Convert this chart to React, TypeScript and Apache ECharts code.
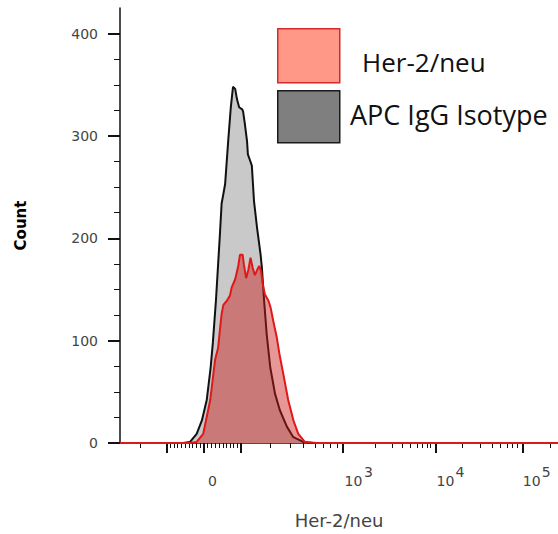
import React, { useEffect, useRef } from "react";
import * as echarts from "echarts";

// Histogram (channel units on a 0–1000 display scale, count per channel)
const isotypeChannel = [0, 144, 160, 175, 187, 198, 207, 212, 219, 228, 232, 235, 240, 247, 253, 258, 263, 267, 272, 279, 281, 285, 290, 292, 297, 301, 306, 313, 321, 324, 329, 335, 343, 354, 365, 381, 395, 418, 441, 1000];
const isotypeCount = [0, 0, 1, 9, 22, 42, 74, 98, 139, 203, 234, 241, 253, 295, 328, 348, 346, 336, 328, 326, 324, 312, 295, 282, 276, 271, 236, 210, 184, 171, 139, 106, 74, 48, 32, 16, 6, 1, 0, 0];

const herChannel = [0, 160, 175, 190, 206, 217, 224, 228, 232, 236, 244, 251, 255, 263, 270, 274, 280, 283, 288, 293, 298, 303, 308, 313, 318, 322, 326, 331, 339, 344, 350, 358, 364, 373, 384, 396, 407, 422, 449, 1000];
const herCount = [0, 0, 1, 9, 42, 81, 93, 110, 126, 135, 139, 144, 152, 160, 173, 184, 184, 174, 161, 169, 181, 171, 164, 169, 173, 168, 155, 145, 139, 132, 119, 103, 87, 67, 42, 22, 9, 1, 0, 0];

// Axis ticks and labels (display channel positions)
const xMajorTicks = [107, 192, 276, 509, 721, 920];
const xMinorTicks = [46, 115, 123, 131, 139, 148, 157, 165, 174, 183, 200, 209, 217, 226, 235, 243, 251, 259, 267, 342, 388, 418, 445, 463, 479, 495, 582, 621, 644, 662, 678, 689, 701, 708, 781, 822, 849, 868, 884, 895, 906, 982];
const xLabelPos = [211, 533, 743, 940];
const xLabelText = ["0", "10", "10", "10"];
const xSupPos = [567, 776, 973];
const xSupText = ["3", "4", "5"];

const yMajorTicks = [0, 100, 200, 300, 400];
const yMinorTicks = [25, 50, 75, 125, 150, 175, 225, 250, 275, 325, 350, 375];

const seriesNames = ["APC IgG Isotype", "Her-2/neu"];
const legendLabels = ["Her-2/neu", "APC IgG Isotype"];

const zip = (a: number[], b: number[]) => a.map((v, i) => [v, b[i]]);

export default function App() {
  const ref = useRef<HTMLDivElement>(null);
  useEffect(() => {
    document.body.style.margin = "0";
    if (!ref.current) return;
    const chart = echarts.init(ref.current, null, { renderer: "svg" });
    const font = "DejaVu Sans";
    const mapper = (pos: number[], txt: string[]) => {
      const m: Record<number, string> = {};
      pos.forEach((v, i) => (m[v] = txt[i]));
      return (v: number) => m[v] ?? "";
    };
    const baseX = {
      type: "value",
      min: 0,
      max: 1000,
      position: "bottom",
      offset: 3,
      splitLine: { show: false },
    };
    const lblStyle = { fontSize: 14, fontFamily: font, color: "#444" };
    chart.setOption({
      animation: false,
      grid: { left: 120, top: 8, right: 0, bottom: 88 },
      xAxis: [
        {
          ...baseX,
          axisLine: { show: true, lineStyle: { color: "#111", width: 1.5 } },
          axisTick: { show: true, customValues: xMajorTicks, length: 10, lineStyle: { color: "#111", width: 2 } },
          axisLabel: { show: true, customValues: xLabelPos, margin: 28, formatter: mapper(xLabelPos, xLabelText), ...lblStyle },
          name: "Her-2/neu",
          nameLocation: "middle",
          nameGap: 65,
          nameTextStyle: { fontSize: 18, fontFamily: font, color: "#444" },
        },
        {
          ...baseX,
          axisLine: { show: false },
          axisTick: { show: true, customValues: xMinorTicks, length: 5, lineStyle: { color: "#111", width: 1 } },
          axisLabel: { show: true, customValues: xSupPos, margin: 19, formatter: mapper(xSupPos, xSupText), ...lblStyle },
        },
      ],
      yAxis: [
        {
          type: "value",
          min: 0,
          max: 425,
          position: "left",
          splitLine: { show: false },
          axisLine: { show: true, lineStyle: { color: "#111", width: 1.5 } },
          axisTick: { show: true, customValues: yMajorTicks, length: 12, lineStyle: { color: "#111", width: 2 } },
          axisLabel: { show: true, customValues: yMajorTicks, margin: 22, ...lblStyle },
          name: "Count",
          nameLocation: "middle",
          nameGap: 92,
          nameTextStyle: { fontSize: 15, fontWeight: "bold", fontFamily: font, color: "#000" },
        },
        {
          type: "value",
          min: 0,
          max: 425,
          position: "left",
          splitLine: { show: false },
          axisLine: { show: false },
          axisTick: { show: true, customValues: yMinorTicks, length: 6, lineStyle: { color: "#111", width: 1 } },
          axisLabel: { show: false },
        },
      ],
      series: [
        {
          name: seriesNames[0],
          type: "line",
          data: zip(isotypeChannel, isotypeCount),
          showSymbol: false,
          lineStyle: { color: "#111", width: 2 },
          areaStyle: { color: "#C9C9C9", opacity: 1 },
          z: 2,
        },
        {
          name: seriesNames[1],
          type: "line",
          data: zip(herChannel, herCount),
          showSymbol: false,
          lineStyle: { color: "#E01818", width: 2 },
          areaStyle: { color: "rgba(205,25,25,0.45)", opacity: 1 },
          z: 3,
        },
      ],
      graphic: [
        { type: "rect", left: 277, top: 28, shape: { width: 62, height: 54 }, style: { fill: "#FF9887", stroke: "#D42A2A", lineWidth: 1.5 } },
        { type: "rect", left: 277, top: 90, shape: { width: 62, height: 52 }, style: { fill: "#7F7F7F", stroke: "#1A1A1A", lineWidth: 1.5 } },
        { type: "text", x: 362, y: 62, style: { text: legendLabels[0], fontSize: 26, fontFamily: "Open Sans", fill: "#111", verticalAlign: "middle" } },
        { type: "text", x: 350, y: 114, style: { text: legendLabels[1], fontSize: 27, fontFamily: "Open Sans", fill: "#111", verticalAlign: "middle" } },
      ],
    });
    return () => chart.dispose();
  }, []);
  return <div ref={ref} style={{ width: 558, height: 534 }} />;
}
